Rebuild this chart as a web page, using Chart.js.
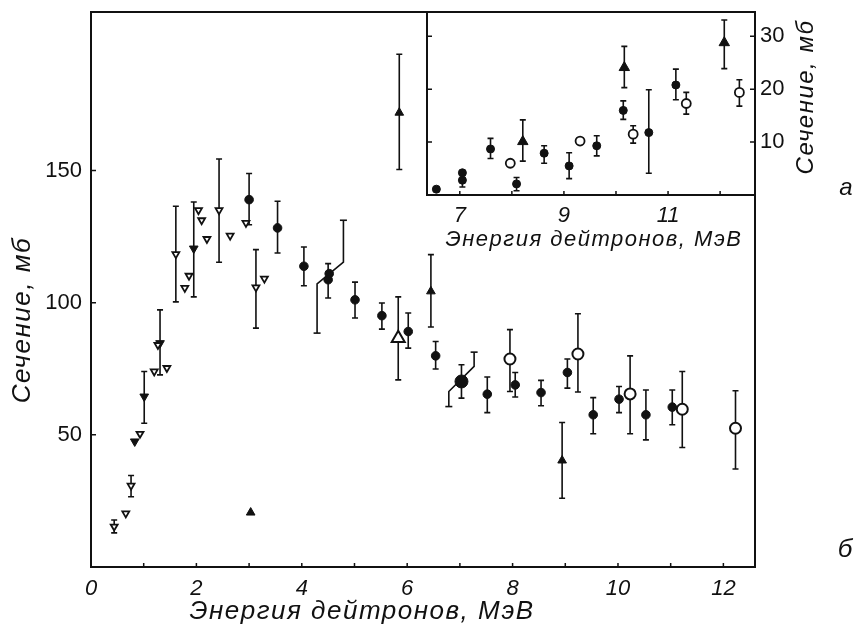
<!DOCTYPE html>
<html>
<head>
<meta charset="utf-8">
<script src="https://cdn.jsdelivr.net/npm/chart.js@4.4.1/dist/chart.umd.min.js"></script>
<style>
  html, body { margin: 0; padding: 0; background: #fff; }
  #wrap { position: relative; width: 855px; height: 628px; overflow: hidden; }
  #main { position: absolute; left: 0; top: 0; }
  #inset { position: absolute; left: 400px; top: 0; }
</style>
</head>
<body>
<div id="wrap">
  <canvas id="main" width="855" height="628"></canvas>
  <canvas id="inset" width="455" height="260"></canvas>
</div>
<script>
// ---- main plot (б): cross-section vs deuteron energy ----
const dotX  = [3.0, 3.54, 4.04, 4.5, 4.52, 5.01, 5.52, 6.02, 6.54, 7.52, 8.05, 8.54, 9.04, 9.53, 10.02, 10.53, 11.03];
const dotY  = [139, 128.3, 113.8, 108.7, 111, 101.1, 95.1, 89.1, 79.9, 65.4, 68.9, 66.0, 73.6, 57.6, 63.5, 57.6, 60.5];
const dotLo = [129.5, 118.8, 106.4, 101.8, null, 94.2, 90, 82.8, 74.9, 58.4, 64.3, 61, 67.7, 50.4, 58.4, 48.1, 53.8];
const dotHi = [148.9, 138.4, 121.1, 114.8, null, 107.8, 99.9, 96.1, 85.3, 71.9, 73.6, 70.6, 78.7, 64.1, 68.3, 67, 67];

const bigDotX  = [7.03];
const bigDotY  = [70.2];
const bigDotLo = [63.9];
const bigDotHi = [76.5];

const ringX  = [7.95, 9.24, 10.23, 11.22, 12.23];
const ringY  = [78.7, 80.6, 65.5, 59.7, 52.5];
const ringLo = [66.4, 66.2, 50.4, 45.2, 37.1];
const ringHi = [89.8, 95.8, 79.9, 74.0, 66.7];

const triX  = [3.03, 5.85, 6.45, 8.94];
const triY  = [20.6, 171.9, 104.3, 40.3];
const triLo = [null, 150.4, 90.8, 26.0];
const triHi = [null, 194, 118.2, 54.7];

const openTriX  = [5.83];
const openTriY  = [86.6];
const openTriLo = [70.8];
const openTriHi = [102.2];

const vOpenX  = [0.44, 0.66, 0.76, 0.93, 1.20, 1.27, 1.44, 1.61, 1.78, 1.86, 2.04, 2.10, 2.20, 2.43, 2.64, 2.94, 3.13, 3.29];
const vOpenY  = [15.3, 20.3, 30.8, 50.4, 74.0, 84.0, 75.3, 118.4, 105.6, 110.2, 135, 131.2, 124.1, 135, 125.4, 130.2, 105.8, 109.1];
const vOpenLo = [12.9, null, 26.6, null, null, null, null, 100.3, null, null, null, null, null, 115.3, null, null, 90.4, null];
const vOpenHi = [17.8, null, 34.6, null, null, null, null, 136.5, null, null, null, null, null, 154.4, null, null, 120.1, null];

const vFillX  = [0.83, 1.01, 1.31, 1.95];
const vFillY  = [47.5, 64.5, 84.7, 120.5];
const vFillLo = [null, 54.4, 72.7, 102.2];
const vFillHi = [null, 74, 97.3, 138.1];

const stepAX = [4.29, 4.29, 4.79, 4.79];
const stepAY = [88.5, 107.1, 115.4, 131.2];
const stepBX = [6.79, 6.79, 7.27, 7.27];
const stepBY = [60.7, 66.4, 75.9, 81.3];

const mainXTicks  = [0, 1, 2, 3, 4, 5, 6, 7, 8, 9, 10, 11, 12];
const mainXLabels = [0, 2, 4, 6, 8, 10, 12];
const mainYLabels = [50, 100, 150];

// ---- inset (а) ----
const inDotX  = [6.55, 7.05, 7.05, 7.59, 8.09, 8.62, 9.10, 9.63, 10.14, 10.63, 11.15];
const inDotY  = [1.1, 4.2, 2.8, 8.7, 2.1, 7.9, 5.5, 9.3, 16.0, 11.8, 20.8];
const inDotLo = [null, null, 1.5, 6.9, 0.8, 6.0, 3.1, 7.4, 14.3, 4.1, 18.0];
const inDotHi = [null, null, 4.5, 10.7, 3.3, 9.3, 8.0, 11.2, 17.8, 19.9, 23.8];

const inRingX  = [7.97, 9.31, 10.33, 11.35, 12.37];
const inRingY  = [6.0, 10.2, 11.5, 17.3, 19.4];
const inRingLo = [null, null, 9.8, 15.3, 16.8];
const inRingHi = [null, null, 13.1, 19.4, 21.8];

const inTriX  = [8.21, 10.16, 12.08];
const inTriY  = [10.1, 24.1, 28.8];
const inTriLo = [6.4, 20.3, 23.9];
const inTriHi = [14.2, 28.1, 33.1];

const insetXTicks  = [7, 8, 9, 10, 11, 12];
const insetXLabels = [7, 9, 11];
const insetYLabels = [10, 20, 30];

const INK = '#111';
const TICK_FONT = { family: '"Liberation Sans Narrow", "Liberation Sans", sans-serif', size: 22 };

function pts(xs, ys) {
  return xs.map((x, i) => ({ x: x, y: ys[i] }));
}

function marks(xs, ys, lo, hi, style) {
  return Object.assign({
    data: pts(xs, ys),
    lo: lo,
    hi: hi,
    pointBorderColor: INK,
    pointBackgroundColor: INK,
    pointBorderWidth: 1
  }, style);
}

function step(xs, ys) {
  return {
    data: pts(xs, ys),
    showLine: true,
    borderColor: INK,
    borderWidth: 1.6,
    pointStyle: 'line',
    pointRadius: [3.5, 0, 0, 3.5],
    pointBorderColor: INK,
    pointBorderWidth: 1.6
  };
}

// fixed tick list and no extra label padding, so the plot box lands where the figure has it
function fixTicks(list) {
  return s => { s.ticks = list.map(v => ({ value: v })); };
}
function noPad(size, key) {
  return s => {
    s[key] = size;
    s.paddingTop = 0; s.paddingBottom = 0; s.paddingLeft = 0; s.paddingRight = 0;
  };
}

const errorBars = {
  id: 'errorBars',
  beforeDatasetsDraw(chart) {
    const { ctx, scales: { x, y } } = chart;
    ctx.save();
    ctx.strokeStyle = INK;
    ctx.lineWidth = 1.6;
    chart.data.datasets.forEach(ds => {
      if (!ds.lo) return;
      ds.data.forEach((p, i) => {
        if (ds.lo[i] == null) return;
        const px = x.getPixelForValue(p.x);
        const y1 = y.getPixelForValue(ds.lo[i]);
        const y2 = y.getPixelForValue(ds.hi[i]);
        ctx.beginPath();
        ctx.moveTo(px, y1); ctx.lineTo(px, y2);
        ctx.moveTo(px - 3, y1); ctx.lineTo(px + 3, y1);
        ctx.moveTo(px - 3, y2); ctx.lineTo(px + 3, y2);
        ctx.stroke();
      });
    });
    ctx.restore();
  }
};

const frame = {
  id: 'frame',
  beforeDraw(chart, args, opts) {
    if (!opts.fill) return;
    const a = chart.chartArea;
    chart.ctx.save();
    chart.ctx.fillStyle = '#fff';
    chart.ctx.fillRect(a.left, a.top, a.right - a.left, a.bottom - a.top);
    chart.ctx.restore();
  },
  afterDatasetsDraw(chart, args, opts) {
    const { ctx, chartArea: a, scales: { x, y } } = chart;
    ctx.save();
    ctx.strokeStyle = INK;
    ctx.lineWidth = 2;
    ctx.strokeRect(a.left, a.top, a.right - a.left, a.bottom - a.top);
    ctx.lineWidth = 1.5;
    ctx.beginPath();
    x.ticks.forEach(t => {
      const px = x.getPixelForValue(t.value);
      if (px <= a.left + 1 || px >= a.right - 1) return;
      ctx.moveTo(px, a.bottom); ctx.lineTo(px, a.bottom - 4);
    });
    y.ticks.forEach(t => {
      const py = y.getPixelForValue(t.value);
      ctx.moveTo(a.left, py); ctx.lineTo(a.left + 5, py);
      if (opts.rightTicks) { ctx.moveTo(a.right, py); ctx.lineTo(a.right - 5, py); }
    });
    ctx.stroke();
    ctx.restore();
  }
};

const texts = {
  id: 'texts',
  afterDraw(chart, args, opts) {
    const ctx = chart.ctx;
    opts.items.forEach(it => {
      ctx.save();
      ctx.fillStyle = INK;
      ctx.font = 'italic ' + it.size + 'px "Liberation Sans", sans-serif';
      ctx.letterSpacing = (it.spacing || 0) + 'px';
      ctx.textAlign = 'center';
      ctx.textBaseline = 'middle';
      ctx.translate(it.x, it.y);
      if (it.rot) ctx.rotate(it.rot * Math.PI / 180);
      ctx.fillText(it.text, 0, 0);
      ctx.restore();
    });
  }
};

new Chart(document.getElementById('main'), {
  type: 'scatter',
  data: {
    datasets: [
      step(stepAX, stepAY),
      step(stepBX, stepBY),
      marks(vOpenX, vOpenY, vOpenLo, vOpenHi, { pointStyle: 'triangle', rotation: 180, pointRadius: 4, pointBackgroundColor: '#fff', pointBorderWidth: 1.8 }),
      marks(vFillX, vFillY, vFillLo, vFillHi, { pointStyle: 'triangle', rotation: 180, pointRadius: 5 }),
      marks(dotX, dotY, dotLo, dotHi, { pointStyle: 'circle', pointRadius: 4.3 }),
      marks(bigDotX, bigDotY, bigDotLo, bigDotHi, { pointStyle: 'circle', pointRadius: 6.5 }),
      marks(ringX, ringY, ringLo, ringHi, { pointStyle: 'circle', pointRadius: 5.5, pointBackgroundColor: '#fff', pointBorderWidth: 2 }),
      marks(triX, triY, triLo, triHi, { pointStyle: 'triangle', pointRadius: 5 }),
      marks(openTriX, openTriY, openTriLo, openTriHi, { pointStyle: 'triangle', pointRadius: 7.5, pointBackgroundColor: '#fff', pointBorderWidth: 2 })
    ]
  },
  options: {
    responsive: false,
    animation: false,
    layout: { padding: { top: 12, right: 100, left: 0, bottom: 0 } },
    plugins: {
      legend: { display: false },
      tooltip: { enabled: false },
      frame: { fill: false, rightTicks: false },
      texts: {
        items: [
          { text: 'Энергия дейтронов, МэВ', x: 362, y: 612, size: 26, spacing: 1.5 },
          { text: 'Сечение, мб', x: 23, y: 320, size: 26, spacing: 1.5, rot: -90 },
          { text: 'б', x: 845, y: 550, size: 26 },
          { text: 'а', x: 846, y: 188, size: 24 }
        ]
      }
    },
    scales: {
      x: {
        type: 'linear',
        min: 0,
        max: 12.6,
        afterBuildTicks: fixTicks(mainXTicks),
        afterFit: noPad(61, 'height'),
        grid: { display: false, drawTicks: false },
        border: { display: false },
        ticks: {
          autoSkip: false,
          maxRotation: 0,
          padding: 9,
          color: INK,
          font: Object.assign({ style: 'italic' }, TICK_FONT),
          callback: v => mainXLabels.includes(v) ? v : ''
        }
      },
      y: {
        min: 0,
        max: 210,
        afterBuildTicks: fixTicks(mainYLabels),
        afterFit: noPad(91, 'width'),
        grid: { display: false, drawTicks: false },
        border: { display: false },
        ticks: {
          autoSkip: false,
          padding: 9,
          color: INK,
          font: TICK_FONT
        }
      }
    }
  },
  plugins: [errorBars, frame, texts]
});

new Chart(document.getElementById('inset'), {
  type: 'scatter',
  data: {
    datasets: [
      marks(inDotX, inDotY, inDotLo, inDotHi, { pointStyle: 'circle', pointRadius: 4 }),
      marks(inRingX, inRingY, inRingLo, inRingHi, { pointStyle: 'circle', pointRadius: 4.5, pointBackgroundColor: '#fff', pointBorderWidth: 1.8 }),
      marks(inTriX, inTriY, inTriLo, inTriHi, { pointStyle: 'triangle', pointRadius: 6 })
    ]
  },
  options: {
    responsive: false,
    animation: false,
    layout: { padding: { top: 12, left: 27, right: 0, bottom: 0 } },
    plugins: {
      legend: { display: false },
      tooltip: { enabled: false },
      frame: { fill: true, rightTicks: true },
      texts: {
        items: [
          { text: 'Энергия дейтронов, МэВ', x: 194, y: 240, size: 22, spacing: 1.5 },
          { text: 'Сечение, мб', x: 406, y: 97, size: 24, spacing: 1.5, rot: -90 }
        ]
      }
    },
    scales: {
      x: {
        type: 'linear',
        min: 6.37,
        max: 12.67,
        afterBuildTicks: fixTicks(insetXTicks),
        afterFit: noPad(65, 'height'),
        grid: { display: false, drawTicks: false },
        border: { display: false },
        ticks: {
          autoSkip: false,
          maxRotation: 0,
          padding: 8,
          color: INK,
          font: Object.assign({ style: 'italic' }, TICK_FONT),
          callback: v => insetXLabels.includes(v) ? v : ''
        }
      },
      y: {
        position: 'right',
        min: 0,
        max: 34.6,
        afterBuildTicks: fixTicks(insetYLabels),
        afterFit: noPad(100, 'width'),
        grid: { display: false, drawTicks: false },
        border: { display: false },
        ticks: {
          autoSkip: false,
          padding: 5,
          color: INK,
          font: TICK_FONT
        }
      }
    }
  },
  plugins: [errorBars, frame, texts]
});
</script>
</body>
</html>
